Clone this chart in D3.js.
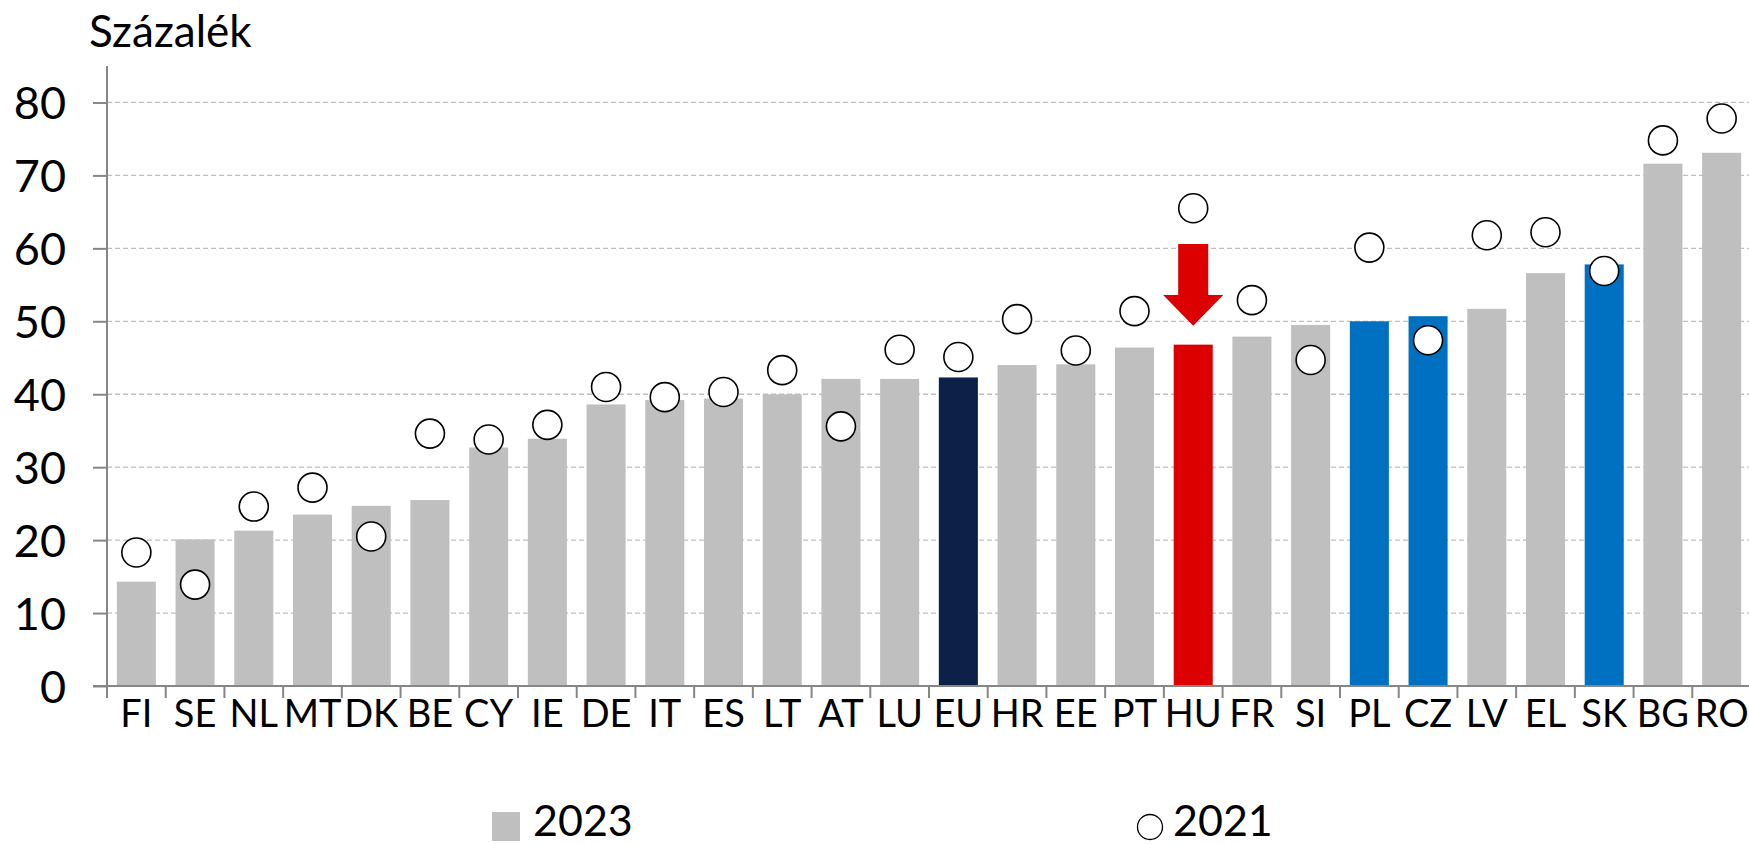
<!DOCTYPE html>
<html>
<head>
<meta charset="utf-8">
<script src="https://cdn.jsdelivr.net/npm/d3@7"></script>
<style>
  html, body { margin: 0; padding: 0; background: #fff; }
  svg text { font-family: Lato, "Open Sans", sans-serif; fill: #000; }
</style>
</head>
<body>
<div id="chart"></div>
<script>
// --- Data ---
const countries = ['FI', 'SE', 'NL', 'MT', 'DK', 'BE', 'CY', 'IE', 'DE', 'IT', 'ES', 'LT', 'AT', 'LU',
  'EU', 'HR', 'EE', 'PT', 'HU', 'FR', 'SI', 'PL', 'CZ', 'LV', 'EL', 'SK', 'BG', 'RO'];
const values2023 = [14.3, 20.1, 21.3, 23.5, 24.7, 25.5, 32.7, 33.9, 38.6, 39.2, 39.4, 40.0, 42.1, 42.1,
  42.3, 44.0, 44.1, 46.4, 46.8, 47.9, 49.5, 50.0, 50.7, 51.7, 56.6, 57.8, 71.6, 73.1];
const values2021 = [18.3, 13.9, 24.6, 27.2, 20.5, 34.6, 33.8, 35.8, 41.0, 39.6, 40.3, 43.3, 35.6, 46.1,
  45.1, 50.3, 46.0, 51.4, 65.5, 52.9, 44.7, 60.1, 47.4, 61.8, 62.2, 56.9, 74.8, 77.8];
const yTicks = [0, 10, 20, 30, 40, 50, 60, 70, 80];
const seriesNames = ['2023', '2021'];
const yTitle = 'Százalék';
// arrow over HU: top of shaft, start of head, tip (in percent)
const arrowCountry = 'HU';
const arrowLevels = [60.6, 53.6, 49.4];

// --- Styles ---
const grey = '#bfbfbf';
const barColors = { EU: '#0c2048', HU: '#dc0000', PL: '#0070c0', CZ: '#0070c0', SK: '#0070c0' };

const width = 1749, height = 844;
const margin = { left: 107, right: -2, top: 66, bottom: 158 };

const svg = d3.select('#chart').append('svg')
  .attr('width', width)
  .attr('height', height);

const x = d3.scaleBand()
  .domain(countries)
  .range([margin.left, width - margin.right])
  .paddingInner(0.335)
  .paddingOuter(0.1675);

const y = d3.scaleLinear()
  .domain([0, 85])
  .range([height - margin.bottom, margin.top]);

const step = x.step();
const bw = x.bandwidth();

// gridlines
svg.append('g')
  .selectAll('line')
  .data(yTicks.filter(d => d > 0))
  .join('line')
  .attr('x1', margin.left)
  .attr('x2', width)
  .attr('y1', d => y(d))
  .attr('y2', d => y(d))
  .attr('stroke', grey)
  .attr('stroke-width', 1.3)
  .attr('stroke-dasharray', '5,3');

// bars
svg.append('g')
  .selectAll('rect')
  .data(countries)
  .join('rect')
  .attr('x', d => x(d))
  .attr('width', bw)
  .attr('y', (d, i) => y(values2023[i]))
  .attr('height', (d, i) => y(0) - y(values2023[i]))
  .attr('fill', d => barColors[d] || grey);

// y axis
const yAxis = d3.axisLeft(y)
  .tickValues(yTicks)
  .tickSize(14)
  .tickPadding(27)
  .tickSizeOuter(0);

const gy = svg.append('g')
  .attr('transform', `translate(${margin.left},0)`)
  .call(yAxis);
gy.select('.domain').attr('stroke', '#868686').attr('stroke-width', 2)
  .attr('d', `M0,${y(0)}V${y(85)}`);
gy.selectAll('.tick line').attr('stroke', '#868686').attr('stroke-width', 2);
gy.selectAll('.tick text')
  .style('font-size', '45px')
  .attr('dy', '0.36em');

// x axis: line + boundary ticks
const gx = svg.append('g');
gx.append('line')
  .attr('x1', margin.left - 14)
  .attr('x2', width)
  .attr('y1', y(0))
  .attr('y2', y(0))
  .attr('stroke', '#868686')
  .attr('stroke-width', 2);
gx.selectAll('line.tk')
  .data(d3.range(countries.length + 1))
  .join('line')
  .attr('class', 'tk')
  .attr('x1', i => margin.left + i * step)
  .attr('x2', i => margin.left + i * step)
  .attr('y1', y(0))
  .attr('y2', y(0) + 12)
  .attr('stroke', '#868686')
  .attr('stroke-width', 2);
gx.selectAll('text')
  .data(countries)
  .join('text')
  .attr('x', d => x(d) + bw / 2)
  .attr('y', y(0) + 41)
  .attr('text-anchor', 'middle')
  .style('font-size', '38px')
  .text(d => d);

// 2021 markers
svg.append('g')
  .selectAll('circle')
  .data(countries)
  .join('circle')
  .attr('cx', d => x(d) + bw / 2)
  .attr('cy', (d, i) => y(values2021[i]))
  .attr('r', 14.5)
  .attr('fill', '#fff')
  .attr('stroke', '#000')
  .attr('stroke-width', 1.6);

// arrow annotation
const ax = x(arrowCountry) + bw / 2;
const shaft = bw * 0.385, head = bw * 0.77;
const [aTop, aNeck, aTip] = arrowLevels.map(v => y(v));
svg.append('path')
  .attr('d', `M${ax - shaft},${aTop}H${ax + shaft}V${aNeck}H${ax + head}L${ax},${aTip}L${ax - head},${aNeck}H${ax - shaft}Z`)
  .attr('fill', '#dc0000');

// title
svg.append('text')
  .attr('x', 89)
  .attr('y', 47)
  .style('font-size', '44px')
  .text(yTitle);

// legend
const lg = svg.append('g');
lg.append('rect')
  .attr('x', 492).attr('y', 812)
  .attr('width', 28).attr('height', 29)
  .attr('fill', grey);
lg.append('text')
  .attr('x', 533).attr('y', 836)
  .style('font-size', '43px')
  .text(seriesNames[0]);
lg.append('circle')
  .attr('cx', 1150).attr('cy', 827)
  .attr('r', 12.5)
  .attr('fill', '#fff')
  .attr('stroke', '#000')
  .attr('stroke-width', 1.3);
lg.append('text')
  .attr('x', 1173).attr('y', 836)
  .style('font-size', '43px')
  .text(seriesNames[1]);
</script>
</body>
</html>
